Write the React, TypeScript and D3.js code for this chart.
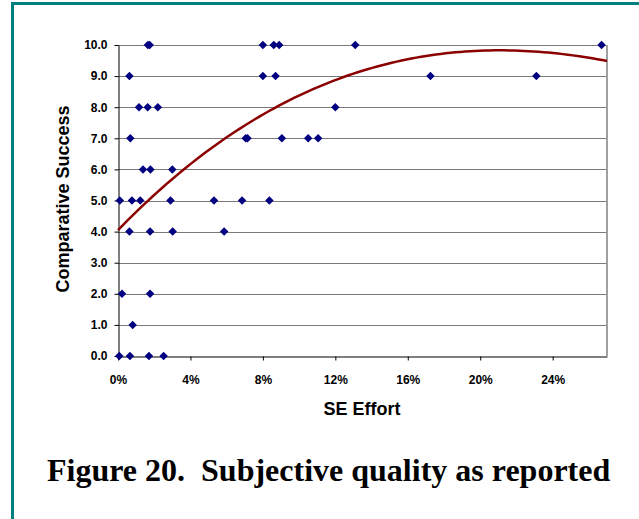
import React, { useEffect, useRef } from "react";
import * as d3 from "d3";

// SE effort (fraction of total project effort) for each reported project
const seEffort = [
  0.0165, 0.0175, 0.08, 0.086, 0.089, 0.131, 0.267,
  0.0063, 0.08, 0.087, 0.1725, 0.231,
  0.0116, 0.0164, 0.022, 0.12,
  0.0068, 0.0705, 0.0715, 0.0905, 0.105, 0.1105,
  0.0138, 0.0179, 0.03,
  0.001, 0.0077, 0.0123, 0.029, 0.053, 0.0685, 0.0836,
  0.0063, 0.0177, 0.0302, 0.0586,
  0.0022, 0.0177,
  0.0081,
  0.0007, 0.0066, 0.0171, 0.0252,
];

// Comparative success score reported for the same projects
const comparativeSuccess = [
  10, 10, 10, 10, 10, 10, 10,
  9, 9, 9, 9, 9,
  8, 8, 8, 8,
  7, 7, 7, 7, 7, 7,
  6, 6, 6,
  5, 5, 5, 5, 5, 5, 5,
  4, 4, 4, 4,
  2, 2,
  1,
  0, 0, 0, 0,
];

// Points along the polynomial trend line
const trendEffort = [0, 0.0177, 0.035, 0.059, 0.087, 0.129, 0.172, 0.21, 0.24, 0.27];
const trendSuccess = [4.05, 5.0, 6.0, 7.0, 8.0, 9.0, 9.68, 9.84, 9.76, 9.47];

const xTicks = [0, 0.04, 0.08, 0.12, 0.16, 0.2, 0.24];
const yTicks = [0, 1, 2, 3, 4, 5, 6, 7, 8, 9, 10];

const W = 639;
const H = 519;
const plot = { left: 118, right: 607, top: 45, bottom: 356 };

const x = d3.scaleLinear().domain([0, 0.27]).range([plot.left, plot.right]);
const y = d3.scaleLinear().domain([0, 10]).range([plot.bottom, plot.top]);

const FONT = "'Liberation Sans', Arial, sans-serif";

// Least-squares cubic through the trend points, so the line is smooth
function cubicFit(xs: number[], ys: number[]): number[] {
  const n = 4;
  const A: number[][] = Array.from({ length: n }, () => Array(n + 1).fill(0));
  xs.forEach((xv, k) => {
    const p = [1, xv, xv * xv, xv * xv * xv];
    for (let i = 0; i < n; i++) {
      for (let j = 0; j < n; j++) A[i][j] += p[i] * p[j];
      A[i][n] += p[i] * ys[k];
    }
  });
  for (let i = 0; i < n; i++) {
    let m = i;
    for (let r = i + 1; r < n; r++) if (Math.abs(A[r][i]) > Math.abs(A[m][i])) m = r;
    [A[i], A[m]] = [A[m], A[i]];
    for (let r = 0; r < n; r++) {
      if (r === i) continue;
      const f = A[r][i] / A[i][i];
      for (let c = i; c <= n; c++) A[r][c] -= f * A[i][c];
    }
  }
  return A.map((row, i) => row[n] / row[i]);
}

const coef = cubicFit(trendEffort, trendSuccess);
const trendAt = (e: number) =>
  coef[0] + coef[1] * e + coef[2] * e * e + coef[3] * e * e * e;

export default function App() {
  const xAxisRef = useRef<SVGGElement>(null);
  const yAxisRef = useRef<SVGGElement>(null);

  useEffect(() => {
    const xa = d3
      .axisBottom(x)
      .tickValues(xTicks)
      .tickFormat(d3.format(".0%"))
      .tickSize(4)
      .tickSizeOuter(0)
      .tickPadding(15);
    const ya = d3
      .axisLeft(y)
      .tickValues(yTicks)
      .tickFormat(d3.format(".1f"))
      .tickSize(4)
      .tickSizeOuter(0)
      .tickPadding(7);
    const gx = d3.select(xAxisRef.current!);
    gx.call(xa as any);
    const gy = d3.select(yAxisRef.current!);
    gy.call(ya as any);
    for (const g of [gx, gy]) {
      g.selectAll("text")
        .attr("font-family", FONT)
        .attr("font-size", 12)
        .attr("font-weight", "bold")
        .attr("fill", "#000");
      g.selectAll("line").attr("stroke", "#000");
      g.select(".domain").attr("stroke", "#000");
    }
  }, []);

  const diamond = d3.symbol().type(d3.symbolDiamond2).size(46)();
  const [e0, e1] = x.domain();
  const samples = d3.range(0, 101).map((i) => e0 + ((e1 - e0) * i) / 100);
  const trend = d3
    .line<number>()
    .x((e) => x(e))
    .y((e) => y(trendAt(e)))(samples);

  return (
    <svg
      width={W}
      height={H}
      style={{ position: "absolute", left: 0, top: 0, background: "#fff" }}
    >
      {/* frame */}
      <line x1={12.5} x2={12.5} y1={2} y2={H} stroke="#008080" strokeWidth={3} />
      <line x1={11} x2={W} y1={3.5} y2={3.5} stroke="#008080" strokeWidth={3} />

      {/* gridlines */}
      {yTicks.slice(1).map((t) => (
        <line
          key={t}
          x1={plot.left}
          x2={plot.right}
          y1={Math.round(y(t)) + 0.5}
          y2={Math.round(y(t)) + 0.5}
          stroke="#7a7a7a"
          strokeWidth={1}
        />
      ))}
      <line
        x1={plot.right}
        x2={plot.right}
        y1={plot.top}
        y2={plot.bottom}
        stroke="#a0a0a0"
        strokeWidth={2}
      />

      <g ref={xAxisRef} transform={`translate(0,${plot.bottom + 0.5})`} />
      <g ref={yAxisRef} transform={`translate(${plot.left + 0.5},0)`} />

      <path d={trend ?? ""} fill="none" stroke="#8b0000" strokeWidth={2.5} />

      {seEffort.map((e, i) => (
        <path
          key={i}
          d={diamond ?? ""}
          transform={`translate(${x(e)},${y(comparativeSuccess[i])})`}
          fill="#000080"
        />
      ))}

      <text
        x={362}
        y={415}
        textAnchor="middle"
        fontFamily={FONT}
        fontWeight="bold"
        fontSize={18}
      >
        SE Effort
      </text>
      <text
        transform="translate(69,199) rotate(-90)"
        textAnchor="middle"
        fontFamily={FONT}
        fontWeight="bold"
        fontSize={18}
      >
        Comparative Success
      </text>

      <text
        x={47}
        y={481}
        fontFamily="'Liberation Serif', 'Times New Roman', serif"
        fontWeight="bold"
        fontSize={32}
        style={{ whiteSpace: "pre" }}
      >
        {"Figure 20.  Subjective quality as reported"}
      </text>
    </svg>
  );
}
